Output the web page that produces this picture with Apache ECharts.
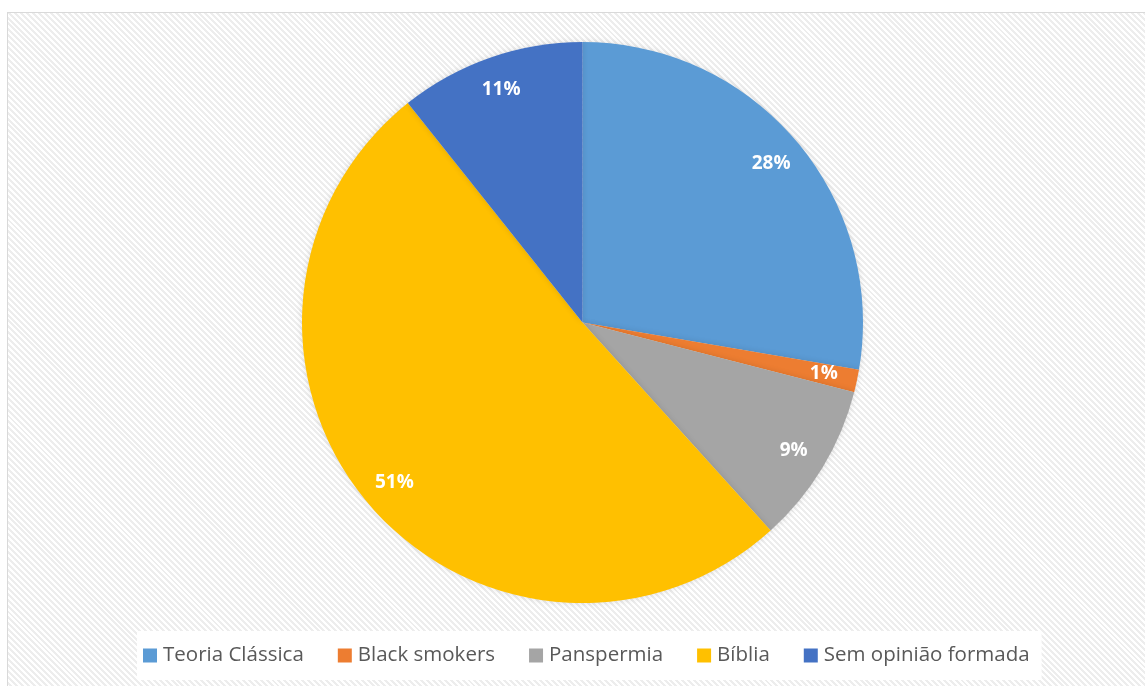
<!DOCTYPE html>
<html>
<head>
<meta charset="utf-8">
<script src="https://cdn.jsdelivr.net/npm/echarts@6/dist/echarts.min.js"></script>
<style>
  html, body { margin: 0; padding: 0; background: #ffffff; }
  #wrap { position: relative; width: 1145px; height: 686px; overflow: hidden; }
  #frame {
    position: absolute; left: 7px; top: 12px; width: 1160px; height: 700px;
    border: 1.5px solid #d9d9d9; box-sizing: border-box;
    background: repeating-linear-gradient(45deg, #ffffff 0px, #ffffff 2.1px, #ededed 2.1px, #ededed 4.2px);
  }
  #chart { position: absolute; left: 0; top: 0; width: 1145px; height: 686px; }
</style>
</head>
<body>
<div id="wrap">
  <div id="frame"></div>
  <div id="chart"></div>
</div>
<script>
const categories = ['Teoria Clássica', 'Black smokers', 'Panspermia', 'Bíblia', 'Sem opinião formada'];
const values = [27.7, 1.3, 9.3, 51.0, 10.7];
const colors = ['#5B9BD5', '#ED7D31', '#A5A5A5', '#FFC000', '#4472C4'];

const data = categories.map((name, i) => ({ name: name, value: values[i], itemStyle: { color: colors[i] } }));
const labelData = categories.map((name, i) => ({ name: name, value: values[i] }));

const chart = echarts.init(document.getElementById('chart'), null, { renderer: 'canvas' });
chart.setOption({
  backgroundColor: 'transparent',
  animation: false,
  color: colors,
  legend: {
    data: categories,
    bottom: 6,
    left: 137,
    backgroundColor: '#ffffff',
    padding: [14, 12, 14, 6],
    itemWidth: 14,
    itemHeight: 14,
    itemGap: 34,
    icon: 'rect',
    textStyle: { fontFamily: 'Open Sans', fontSize: 20.5, color: '#595959', padding: [0, 0, 0, 1] }
  },
  series: [
    {
      type: 'pie',
      center: [582.5, 322.5],
      radius: [0, 280.5],
      startAngle: 90,
      clockwise: true,
      label: { show: false },
      labelLine: { show: false },
      itemStyle: { borderWidth: 0, shadowBlur: 6, shadowColor: 'rgba(0,0,0,0.12)' },
      emphasis: { disabled: true },
      data: data
    },
    {
      type: 'pie',
      center: [582.5, 322.5],
      radius: [207, 280.5],
      startAngle: 90,
      clockwise: true,
      silent: true,
      itemStyle: { color: 'rgba(0,0,0,0)', borderWidth: 0 },
      label: {
        show: true,
        position: 'inside',
        color: '#ffffff',
        fontFamily: 'Open Sans',
        fontWeight: 'bold',
        fontSize: 19,
        formatter: function (p) { return Math.round(p.percent) + '%'; }
      },
      labelLine: { show: false },
      emphasis: { disabled: true },
      data: labelData
    }
  ]
});
</script>
</body>
</html>
